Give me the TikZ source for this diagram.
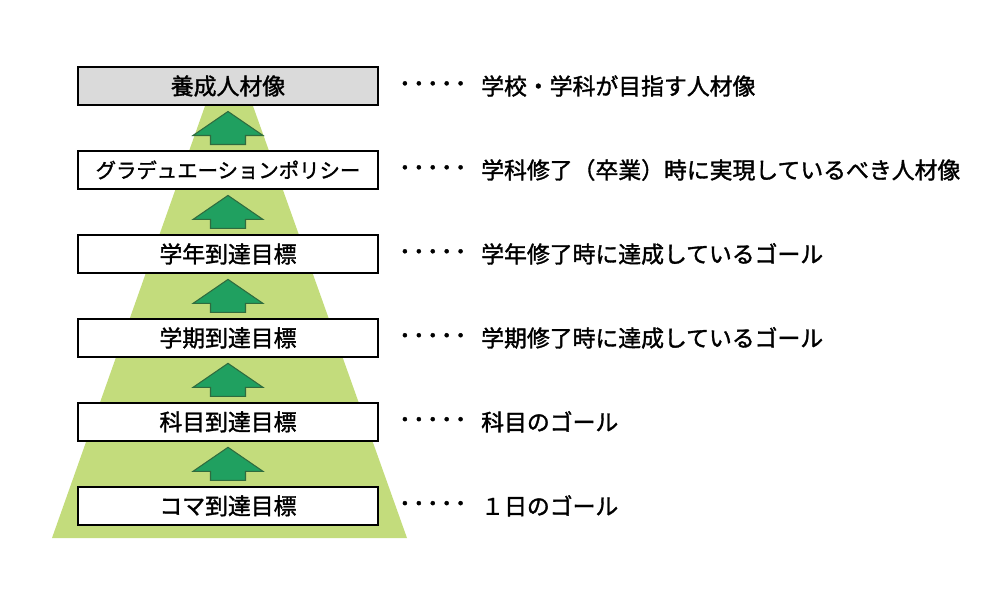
\documentclass[tikz,border=0pt]{standalone}
\usepackage{fontspec}
\usepackage{tikz}
\usetikzlibrary{positioning,calc}
\newfontfamily\cjk[AutoFakeBold=1.5]{Noto Sans CJK JP}
\newfontfamily\dotfont[LetterSpace=-28,AutoFakeBold=2]{Noto Sans CJK JP}
\definecolor{Leaf}{HTML}{C3DC7C}
\definecolor{Arrow}{HTML}{20A060}
\definecolor{ArrowLine}{HTML}{2F6B3E}
\definecolor{TopGray}{HTML}{DADADA}

\begin{document}
\begin{tikzpicture}[x=0.2mm,y=-0.2mm,node distance=8.84mm,
    lv/.style={draw=black,line width=1pt,fill=white,minimum width=60mm,minimum height=7.6mm,inner sep=0pt,font=\cjk\bfseries\fontsize{13}{15}\selectfont},
    up/.style={draw=ArrowLine,fill=Arrow,line width=0.6pt,line join=miter},
    dots/.style={anchor=west,inner sep=0pt,font=\dotfont\bfseries\fontsize{11}{13}\selectfont},
    desc/.style={anchor=west,inner sep=0pt,font=\cjk\bfseries\fontsize{13}{15}\selectfont}]
    \useasboundingbox (0,0) rectangle (1000,590);
    % pyramid
    \fill[Leaf] (52,538) -- (407,538) -- (253,106) -- (205,106) -- cycle;
    \node[lv,fill=TopGray] (ideal) at (228,86) {養成人材像};
    \node[lv,below=of ideal,font=\cjk\bfseries\fontsize{11.6}{14}\selectfont] (dp) {グラデュエーションポリシー};
    \node[lv,below=of dp] (year) {学年到達目標};
    \node[lv,below=of year] (term) {学期到達目標};
    \node[lv,below=of term] (subj) {科目到達目標};
    \node[lv,below=of subj] (koma) {コマ到達目標};
    % block arrows between levels
    \foreach \lo/\hi in {dp/ideal,year/dp,term/year,subj/term,koma/subj} {
      \coordinate (\lo-up) at ($(\lo.north)!.5!(\hi.south)$);
      \draw[up] ($(\lo-up)+(-17.5,16.5)$) -- ++(0,-9) -- ++(-17.5,0) -- ++(35,-24)
        -- ++(35,24) -- ++(-17.5,0) -- ++(0,9) -- cycle;
    }
    % explanations
    \foreach \n/\t in {ideal/学校・学科が目指す人材像,dp/学科修了（卒業）時に実現しているべき人材像,year/学年修了時に達成しているゴール,term/学期修了時に達成しているゴール,subj/科目のゴール,koma/１日のゴール} {
      \node[dots] (\n-dots) at ([xshift=3.2mm]\n.east) {・・・・・};
      \node[desc] (\n-txt) at ([xshift=20.4mm]\n.east) {\t};
    }
  \end{tikzpicture}
\end{document}
